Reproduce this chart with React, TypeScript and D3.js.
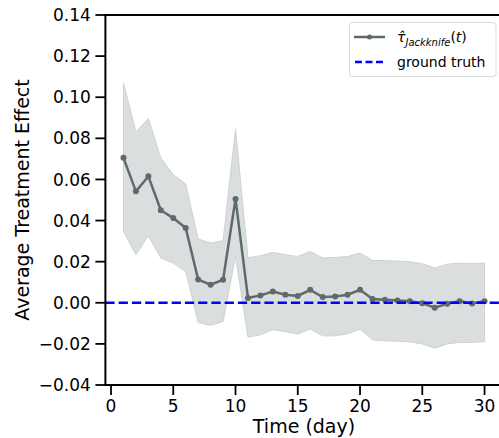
import React from "react";
import * as d3 from "d3";

const days = d3.range(1, 31);
const estimate = [0.0705, 0.0542, 0.0615, 0.045, 0.0412, 0.0364, 0.0113, 0.0088, 0.0112, 0.0505,
  0.0023, 0.0036, 0.0055, 0.0039, 0.0033, 0.0063, 0.0028, 0.0031, 0.0039, 0.0063,
  0.0018, 0.0015, 0.0011, 0.0008, -0.0002, -0.0024, -0.0005, 0.0008, -0.0003, 0.0008];
const upper = [0.107, 0.0831, 0.0896, 0.0705, 0.0623, 0.0578, 0.031, 0.0291, 0.0302, 0.0846,
  0.0218, 0.0229, 0.0245, 0.0234, 0.0225, 0.025, 0.0218, 0.0221, 0.0225, 0.0242,
  0.0206, 0.0205, 0.0203, 0.02, 0.019, 0.0169, 0.0188, 0.0193, 0.019, 0.0193];
const lower = [0.0347, 0.0234, 0.0326, 0.0218, 0.0193, 0.0152, -0.0096, -0.011, -0.0091, 0.0225,
  -0.0167, -0.0156, -0.0131, -0.014, -0.0152, -0.0128, -0.0161, -0.0161, -0.0151, -0.0128,
  -0.018, -0.0185, -0.0187, -0.019, -0.02, -0.0221, -0.02, -0.0193, -0.0193, -0.0189];
const groundTruth = 0;
const xTicks = [0, 5, 10, 15, 20, 25, 30];
const yTicks = [-0.04, -0.02, 0, 0.02, 0.04, 0.06, 0.08, 0.1, 0.12, 0.14];

export default function App() {
  const W = 499, H = 438;
  const left = 105.4, right = 502.6, top = 15, bottom = 385;
  const x = d3.scaleLinear().domain([-0.45, 31.45]).range([left, right]);
  const y = d3.scaleLinear().domain([-0.04, 0.14]).range([bottom, top]);
  const font = "DejaVu Sans";
  const lineColor = "#5f6a6c";

  const area = d3.area<number>()
    .x((_, i) => x(days[i]))
    .y0((_, i) => y(lower[i]))
    .y1((_, i) => y(upper[i]));
  const line = d3.line<number>()
    .x((_, i) => x(days[i]))
    .y((d) => y(d));

  const fmt = (v: number) => (v < 0 ? "\u2212" : "") + Math.abs(v).toFixed(2);

  return (
    <svg width={W} height={H} style={{ position: "absolute", left: 0, top: 0 }} fontFamily={font}>
      <rect width={W} height={H} fill="white" />
      <defs>
        <clipPath id="plot">
          <rect x={left} y={top} width={right - left} height={bottom - top} />
        </clipPath>
      </defs>
      <g clipPath="url(#plot)">
        <path d={area(estimate) || ""} fill="#dadedf" stroke="#cdd2d3" strokeWidth={1} />
        <path d={line(estimate) || ""} fill="none" stroke={lineColor} strokeWidth={2.5} />
        {estimate.map((v, i) => (
          <circle key={i} cx={x(days[i])} cy={y(v)} r={3} fill={lineColor} />
        ))}
        <line x1={left} x2={right} y1={y(groundTruth)} y2={y(groundTruth)} stroke="#0000ff" strokeWidth={2.5} strokeDasharray="9.25,4" />
      </g>
      {/* spines */}
      <line x1={left} x2={left} y1={top - 1} y2={bottom + 1} stroke="black" strokeWidth={2} />
      <line x1={left - 1} x2={W} y1={bottom} y2={bottom} stroke="black" strokeWidth={2} />
      <line x1={left - 1} x2={W} y1={top} y2={top} stroke="black" strokeWidth={2} />
      {/* y ticks */}
      {yTicks.map((t) => (
        <g key={t}>
          <line x1={left - 10} x2={left} y1={y(t)} y2={y(t)} stroke="black" strokeWidth={1.8} />
          <text x={left - 14.5} y={y(t)} dy="0.36em" textAnchor="end" fontSize={17} fill="black">{fmt(t)}</text>
        </g>
      ))}
      {/* x ticks */}
      {xTicks.map((t) => (
        <g key={t}>
          <line x1={x(t)} x2={x(t)} y1={bottom} y2={bottom + 10} stroke="black" strokeWidth={1.8} />
          <text x={x(t)} y={412} textAnchor="middle" fontSize={17} fill="black">{t}</text>
        </g>
      ))}
      <text x={(left + right) / 2} y={433} textAnchor="middle" fontSize={19} fill="black">Time (day)</text>
      <text transform={`translate(29,${(top + bottom) / 2}) rotate(-90)`} textAnchor="middle" fontSize={19} fill="black">Average Treatment Effect</text>
      {/* legend */}
      <g>
        <rect x={349.5} y={22.5} width={146.5} height={54} rx={3} fill="white" fillOpacity={0.8} stroke="#d9d9d9" strokeWidth={1} />
        <line x1={354} x2={385} y1={37} y2={37} stroke={lineColor} strokeWidth={2.5} />
        <circle cx={369.5} cy={37} r={2.5} fill={lineColor} />
        <text x={397} y={42} fontSize={14} fill="black">
          <tspan fontStyle="italic">τ̂</tspan>
          <tspan fontStyle="italic" fontSize={10} dy={4}>Jackknife</tspan>
          <tspan dy={-4}>(</tspan>
          <tspan fontStyle="italic">t</tspan>
          <tspan>)</tspan>
        </text>
        <line x1={355} x2={385} y1={62} y2={62} stroke="#0000ff" strokeWidth={2.5} strokeDasharray="7,3.5" />
        <text x={397} y={67} fontSize={14} fill="black">ground truth</text>
      </g>
    </svg>
  );
}
